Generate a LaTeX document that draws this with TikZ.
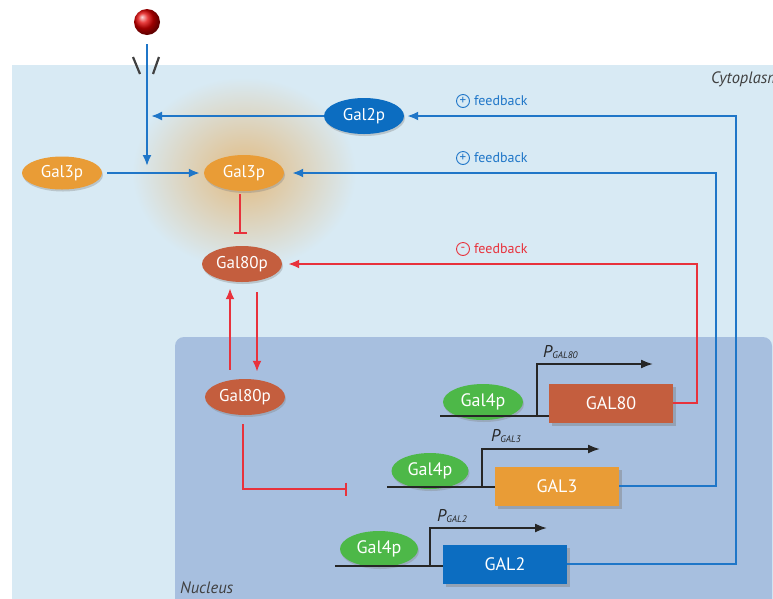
\documentclass[tikz,border=0pt]{standalone}
\usepackage{fontspec}
\setmainfont{PT Sans}
\usetikzlibrary{arrows.meta,shapes.geometric,shadows,positioning,calc}
\definecolor{cyto}{HTML}{D8EAF4}
\definecolor{nucl}{HTML}{A7BFDF}
\definecolor{actblue}{HTML}{1F76C8}
\definecolor{repred}{HTML}{E8323C}
\definecolor{galorange}{HTML}{E99C36}
\definecolor{galbrown}{HTML}{C45E3E}
\definecolor{galgreen}{HTML}{4DB848}
\definecolor{galblue}{HTML}{0C6DC1}
\newcommand{\promlabel}[1]{\textit{P\raisebox{-1.5pt}{\fontsize{9.5}{10}\selectfont #1}}}
\tikzset{protein/.style={ellipse, minimum width=80pt, minimum height=36pt, inner sep=0pt, text=white, font=\fontsize{17}{19}\selectfont, drop shadow={opacity=0.35, shadow xshift=1pt, shadow yshift=-2pt}}}
\tikzset{gene/.style={rectangle, minimum width=124pt, minimum height=39pt, inner sep=0pt, text=white, font=\fontsize{18}{20}\selectfont, drop shadow={opacity=0.45, shadow xshift=3pt, shadow yshift=-3pt}}}
\tikzset{ball/.style={circle, minimum size=26pt, inner sep=0pt, shading=ball, ball color=red!88!black}}
\tikzset{act/.style={draw=actblue, line width=2pt, -{Latex[length=11pt,width=9pt]}}}
\tikzset{rep/.style={draw=repred, line width=2pt, -{Latex[length=11pt,width=9pt]}}}
\tikzset{block/.style={draw=repred, line width=2pt, -{Bar[width=13pt,line width=2pt]}}}
\tikzset{dna/.style={draw=black!85, line width=2.2pt}}
\tikzset{promoter/.style={draw=black!85, line width=1.8pt, -{Latex[length=12pt,width=9pt]}}}
\tikzset{sign/.style={circle, draw, line width=0.9pt, minimum size=13pt, inner sep=0pt, font=\fontsize{13}{13}\selectfont}}
\tikzset{fbtext/.style={font=\fontsize{14}{16}\selectfont, inner sep=0pt}}
\tikzset{region/.style={font=\fontsize{16.5}{18}\selectfont\itshape, text=black!75, inner sep=0pt}}
\tikzset{plabel/.style={anchor=base west, inner sep=0pt, text=black!85, font=\fontsize{17}{19}\selectfont}}

\begin{document}
\begin{tikzpicture}[x=1pt, y=-1pt]
    \useasboundingbox (0,0) rectangle (773,598);
    \clip (0,0) rectangle (773,598);

    % compartments
    \fill[white] (0,0) rectangle (773,598);
    \fill[cyto] (12,65) rectangle (790,610);
    \fill[nucl, rounded corners=9pt] (175,337) rectangle (772,620);
    \node[region, anchor=base west] (cytolabel) at (711,83) {Cytoplasm};
    \node[region, anchor=base west] (nuclabel) at (180,593) {Nucleus};

    % glow of the active Gal3p
    \shade[inner color=galorange!60!cyto, outer color=cyto] (244,173) ellipse (112 and 96);

    % proteins
    \node[ball] (signal) at (147,22) {};
    \node[protein, fill=galblue] (gal2p) at (364,116) {Gal2p};
    \node[protein, fill=galorange, minimum height=33pt] (gal3out) at (62,173) {Gal3p};
    \node[protein, fill=galorange] (gal3in) at (244,173) {Gal3p};
    \node[protein, fill=galbrown] (gal80c) at (242,264) {Gal80p};
    \node[protein, fill=galbrown] (gal80n) at (245,397) {Gal80p};

    % genes
    \node[gene, fill=galbrown] (gal80g) at (611,403) {GAL80};
    \node[gene, fill=galorange] (gal3g) at (557,486) {GAL3};
    \node[gene, fill=galblue] (gal2g) at (505,564) {GAL2};
    \node[protein, fill=galgreen, font=\fontsize{18}{20}\selectfont] (gal4a) at (483,402) {Gal4p};
    \node[protein, fill=galgreen, font=\fontsize{18}{20}\selectfont, minimum width=77pt] (gal4b) at (430,471) {Gal4p};
    \node[protein, fill=galgreen, font=\fontsize{18}{20}\selectfont, minimum width=78pt] (gal4c) at (379,549) {Gal4p};

    % DNA and promoters
    \coordinate (dna80) at (440,416);
    \coordinate (dna3) at (387,487);
    \coordinate (dna2) at (335,566);
    \draw[dna] (dna80) -- (dna80 -| gal80g.west);
    \draw[dna] (dna3) -- (dna3 -| gal3g.west);
    \draw[dna] (dna2) -- (dna2 -| gal2g.west);

    \coordinate (tss80) at (537,416);
    \coordinate (tip80) at (653,364);
    \coordinate (tss3) at (482,487);
    \coordinate (tip3) at (600,449);
    \coordinate (tss2) at (430,566);
    \coordinate (tip2) at (547,528);
    \draw[promoter] (tss80) |- (tip80);
    \draw[promoter] (tss3) |- (tip3);
    \draw[promoter] (tss2) |- (tip2);
    \node[plabel] (p80) at (543,357) {\promlabel{GAL80}};
    \node[plabel] (p3) at (491,441) {\promlabel{GAL3}};
    \node[plabel] (p2) at (437,521) {\promlabel{GAL2}};

    % signal and transport
    \draw[black!75, line width=2.2pt] (133,57) -- (140,74);
    \draw[black!75, line width=2.2pt] (159,57) -- (153,74);
    \coordinate (sigjoin) at (147,166);
    \coordinate (gal2tip) at (151,116);
    \draw[act, shorten <=9pt] (signal) -- (sigjoin);
    \draw[act] (gal2p.west) -- (gal2tip);
    \draw[act, shorten <=5pt, shorten >=4pt] (gal3out.east) -- (gal3in.west);

    % regulation
    \draw[block, shorten <=3pt, shorten >=12pt] ([xshift=-4pt]gal3in.south) -- ([xshift=-4pt]gal3in.south |- gal80c.north);
    \draw[rep, shorten <=9pt, shorten >=6pt] ([xshift=-12pt]gal80c.south |- gal80n.north) -- ([xshift=-12pt]gal80c.south);
    \draw[rep, shorten <=10pt, shorten >=7pt] ([xshift=15pt]gal80c.south) -- ([xshift=15pt]gal80c.south |- gal80n.north);
    \coordinate (block3) at (347,489);
    \draw[block, shorten <=9pt] ([xshift=-2pt]gal80n.south) |- (block3);

    % feedback loops
    \coordinate (turn2) at (736,116);
    \coordinate (turn3) at (716,173);
    \coordinate (turn80) at (697,264);
    \draw[act, shorten >=3pt] (gal2g.east) -| (turn2) -- (gal2p.east);
    \draw[act, shorten >=8pt] (gal3g.east) -| (turn3) -- (gal3in.east);
    \draw[rep, shorten >=6pt] (gal80g.east) -| (turn80) -- (gal80c.east);

    \node[sign, draw=actblue, text=actblue] (plustwo) at (463,101) {+};
    \node[fbtext, text=actblue, right=4pt of plustwo] (fbtwo) {feedback};
    \node[sign, draw=actblue, text=actblue] (plusthree) at (463,158) {+};
    \node[fbtext, text=actblue, right=4pt of plusthree] (fbthree) {feedback};
    \node[sign, draw=repred, text=repred] (minuseighty) at (463,249) {-};
    \node[fbtext, text=repred, right=4pt of minuseighty] (fbeighty) {feedback};
\end{tikzpicture}
\end{document}
